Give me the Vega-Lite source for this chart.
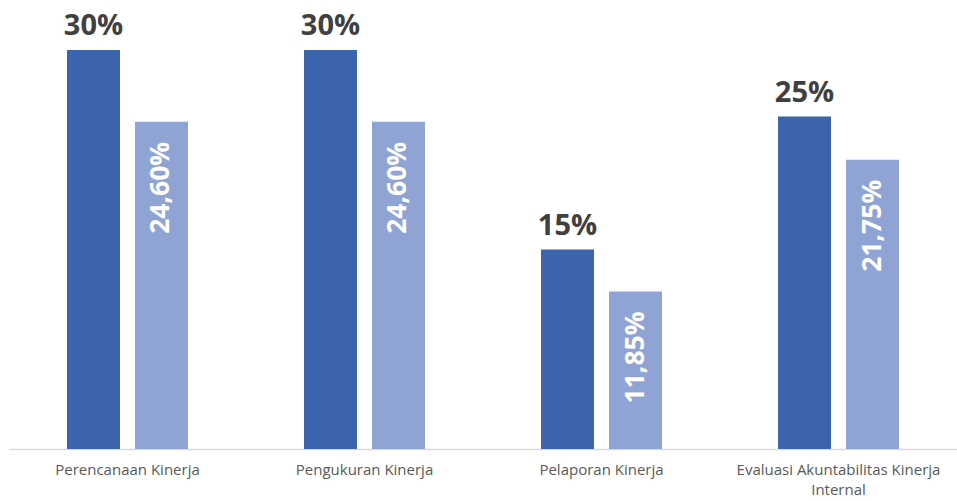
{
  "$schema": "https://vega.github.io/schema/vega-lite/v6.json",
  "autosize": {"type": "none"},
  "padding": {"left": 9, "top": 0, "right": 0, "bottom": 52},
  "width": 948,
  "height": 449,
  "background": "white",
  "config": {"view": {"stroke": null}, "font": "Open Sans"},
  "data": {
    "values": [
      {"kategori": "Perencanaan Kinerja", "seri": "Bobot", "nilai": 30, "label": "30%"},
      {"kategori": "Perencanaan Kinerja", "seri": "Capaian", "nilai": 24.6, "label": "24,60%"},
      {"kategori": "Pengukuran Kinerja", "seri": "Bobot", "nilai": 30, "label": "30%"},
      {"kategori": "Pengukuran Kinerja", "seri": "Capaian", "nilai": 24.6, "label": "24,60%"},
      {"kategori": "Pelaporan Kinerja", "seri": "Bobot", "nilai": 15, "label": "15%"},
      {"kategori": "Pelaporan Kinerja", "seri": "Capaian", "nilai": 11.85, "label": "11,85%"},
      {"kategori": "Evaluasi Akuntabilitas Kinerja Internal", "seri": "Bobot", "nilai": 25, "label": "25%"},
      {"kategori": "Evaluasi Akuntabilitas Kinerja Internal", "seri": "Capaian", "nilai": 21.75, "label": "21,75%"}
    ]
  },
  "encoding": {
    "x": {
      "field": "kategori", "type": "nominal", "sort": null,
      "scale": {"paddingInner": 0.4895, "paddingOuter": 0.2447},
      "axis": {
        "title": null, "labelAngle": 0, "ticks": false,
        "domainColor": "#D9D9D9", "domainWidth": 1.5,
        "labelColor": "#595959", "labelFontSize": 15, "labelFont": "Open Sans",
        "labelPadding": 13, "labelBaseline": "top", "labelLineHeight": 20,
        "labelLimit": 300,
        "labelExpr": "datum.label == 'Evaluasi Akuntabilitas Kinerja Internal' ? ['Evaluasi Akuntabilitas Kinerja', 'Internal'] : datum.label"
      }
    },
    "xOffset": {
      "field": "seri", "type": "nominal",
      "scale": {"paddingInner": 0.2206, "paddingOuter": 0}
    },
    "y": {
      "field": "nilai", "type": "quantitative",
      "scale": {"domain": [0, 33.76], "nice": false},
      "axis": null
    }
  },
  "layer": [
    {
      "mark": {"type": "bar"},
      "encoding": {
        "color": {
          "field": "seri", "type": "nominal",
          "scale": {"domain": ["Bobot", "Capaian"], "range": ["#3B64AD", "#8FA4D5"]},
          "legend": null
        }
      }
    },
    {
      "transform": [{"filter": "datum.seri == 'Bobot'"}],
      "mark": {"type": "text", "baseline": "alphabetic", "dy": -15, "fontSize": 29, "fontWeight": "bold", "color": "#404040", "font": "Open Sans"},
      "encoding": {"text": {"field": "label"}}
    },
    {
      "transform": [{"filter": "datum.seri == 'Capaian'"}],
      "mark": {"type": "text", "angle": 270, "align": "right", "baseline": "middle", "dx": -20, "fontSize": 26.5, "fontWeight": "bold", "color": "white", "font": "Open Sans"},
      "encoding": {"text": {"field": "label"}}
    }
  ]
}
